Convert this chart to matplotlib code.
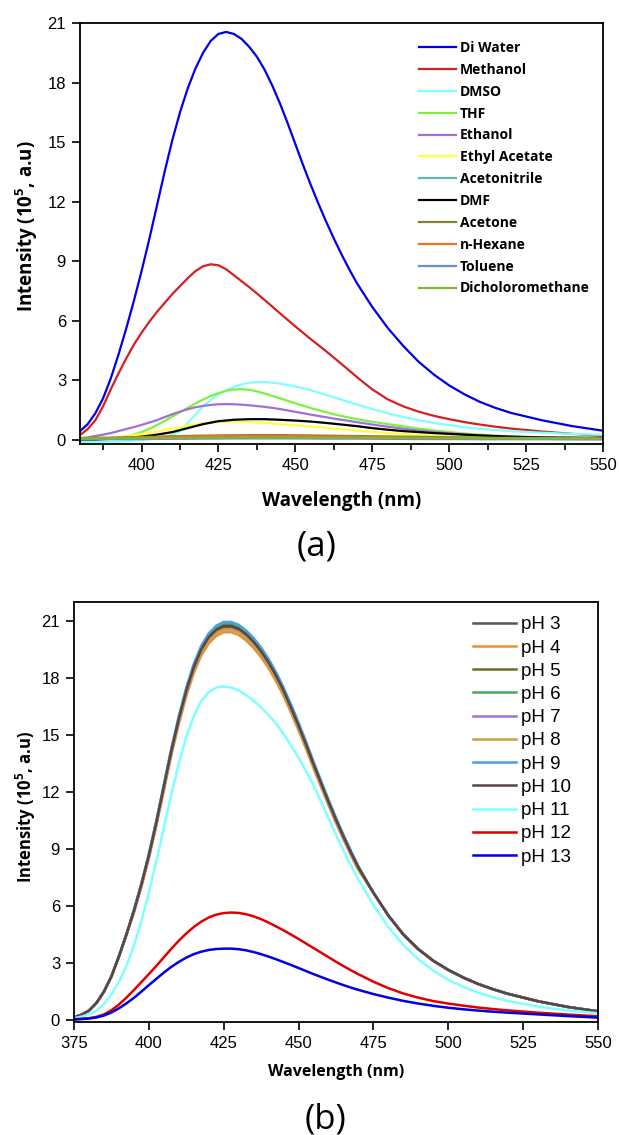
import matplotlib
matplotlib.use("Agg")
import matplotlib.pyplot as plt

plt.rcParams['font.family'] = ['Liberation Sans', 'DejaVu Sans']
plt.rcParams['mathtext.default'] = 'regular'

# ---- panel (a): solvents ----
wl_a = [380, 382.5, 385, 387.5, 390, 392.5, 395, 397.5, 400, 402.5, 405, 407.5, 410, 412.5, 415, 417.5,
        420, 422.5, 425, 427.5, 430, 432.5, 435, 437.5, 440, 442.5, 445, 447.5, 450, 452.5, 455, 457.5,
        460, 462.5, 465, 467.5, 470, 475, 480, 485, 490, 495, 500, 505, 510, 515, 520, 530, 540, 550]
wl_a5 = [380, 385, 390, 395, 400, 405, 410, 415, 420, 425, 430, 435, 440, 445, 450, 455, 460, 465,
         470, 475, 480, 485, 490, 495, 500, 505, 510, 515, 520, 525, 530, 535, 540, 545, 550]
wl_a10 = [380, 390, 400, 410, 420, 430, 440, 450, 460, 470, 480, 490, 500, 510, 520, 530, 540, 550]

di_water = [0.45, 0.8, 1.35, 2.1, 3.1, 4.3, 5.6, 7.0, 8.5, 10.1, 11.8, 13.5, 15.1, 16.5, 17.7, 18.7,
            19.5, 20.1, 20.45, 20.55, 20.45, 20.2, 19.8, 19.3, 18.65, 17.85, 16.95, 15.95, 14.9, 13.85, 12.85, 11.9,
            11.0, 10.15, 9.35, 8.6, 7.9, 6.7, 5.65, 4.75, 3.95, 3.3, 2.75, 2.3, 1.92, 1.62, 1.37, 1.0, 0.7, 0.47]
methanol = [0.25, 0.55, 1.0, 1.7, 2.55, 3.35, 4.1, 4.8, 5.4, 5.95, 6.45, 6.9, 7.35, 7.75, 8.15, 8.5,
            8.75, 8.85, 8.8, 8.6, 8.3, 8.0, 7.7, 7.38, 7.05, 6.72, 6.38, 6.05, 5.72, 5.4, 5.08, 4.78,
            4.47, 4.15, 3.83, 3.5, 3.17, 2.55, 2.05, 1.7, 1.43, 1.22, 1.05, 0.9, 0.78, 0.67, 0.58, 0.43, 0.31, 0.21]
dmso = [-0.1, -0.1, -0.1, -0.1, -0.09, -0.08, -0.06, -0.03, 0.0, 0.04, 0.09, 0.15, 0.25, 0.45, 0.85, 1.28,
        1.68, 2.02, 2.3, 2.52, 2.68, 2.8, 2.88, 2.92, 2.92, 2.89, 2.84, 2.77, 2.69, 2.6, 2.5, 2.39,
        2.27, 2.15, 2.03, 1.91, 1.79, 1.56, 1.35, 1.16, 1.0, 0.86, 0.75, 0.65, 0.57, 0.5, 0.45, 0.37, 0.31, 0.26]
thf = [0.0, 0.01, 0.03, 0.05, 0.08, 0.12, 0.18, 0.27, 0.4, 0.56, 0.75, 0.96, 1.18, 1.4, 1.62, 1.84,
       2.04, 2.22, 2.36, 2.47, 2.54, 2.56, 2.53, 2.45, 2.34, 2.22, 2.1, 1.97, 1.85, 1.73, 1.61, 1.5,
       1.4, 1.3, 1.21, 1.13, 1.05, 0.92, 0.8, 0.69, 0.58, 0.48, 0.4, 0.33, 0.27, 0.22, 0.18, 0.13, 0.1, 0.08]
ethanol = [0.08, 0.13, 0.2, 0.27, 0.35, 0.45, 0.55, 0.65, 0.76, 0.88, 1.0, 1.15, 1.3, 1.43, 1.55, 1.65,
           1.72, 1.77, 1.8, 1.81, 1.8, 1.78, 1.75, 1.71, 1.67, 1.62, 1.56, 1.49, 1.42, 1.35, 1.28, 1.21,
           1.15, 1.08, 1.02, 0.96, 0.9, 0.78, 0.67, 0.57, 0.48, 0.4, 0.34, 0.28, 0.23, 0.19, 0.16, 0.12, 0.1, 0.08]
ethyl_acetate = [0.02, 0.05, 0.1, 0.18, 0.3, 0.43, 0.57, 0.72, 0.85, 0.91, 0.92, 0.9, 0.86, 0.8, 0.74, 0.68, 0.61, 0.54,
                 0.47, 0.41, 0.35, 0.3, 0.26, 0.22, 0.19, 0.16, 0.13, 0.11, 0.09, 0.08, 0.07, 0.06, 0.05, 0.05, 0.05]
dmf = [0.02, 0.03, 0.06, 0.1, 0.17, 0.27, 0.4, 0.6, 0.8, 0.95, 1.02, 1.05, 1.05, 1.02, 0.98, 0.93, 0.86, 0.78,
       0.7, 0.6, 0.52, 0.45, 0.4, 0.35, 0.31, 0.27, 0.23, 0.2, 0.17, 0.15, 0.13, 0.12, 0.12, 0.11, 0.11]
acetonitrile = [0.05, 0.06, 0.07, 0.09, 0.11, 0.12, 0.13, 0.13, 0.12, 0.11, 0.1, 0.09, 0.08, 0.07, 0.07, 0.06, 0.06, 0.05]
acetone = [0.1, 0.12, 0.15, 0.19, 0.22, 0.24, 0.25, 0.24, 0.22, 0.2, 0.18, 0.16, 0.14, 0.12, 0.11, 0.1, 0.09, 0.09]
n_hexane = [0.08, 0.1, 0.13, 0.16, 0.19, 0.21, 0.21, 0.2, 0.18, 0.16, 0.14, 0.12, 0.11, 0.1, 0.09, 0.08, 0.08, 0.07]
toluene = [0.03, 0.04, 0.05, 0.06, 0.07, 0.08, 0.08, 0.08, 0.07, 0.07, 0.06, 0.05, 0.05, 0.04, 0.04, 0.04, 0.03, 0.03]
dcm = [0.07, 0.08, 0.09, 0.1, 0.11, 0.12, 0.12, 0.12, 0.11, 0.11, 0.1, 0.1, 0.09, 0.09, 0.08, 0.08, 0.08, 0.07]

solvents = ["Di Water", "Methanol", "DMSO", "THF", "Ethanol", "Ethyl Acetate", "Acetonitrile",
            "DMF", "Acetone", "n-Hexane", "Toluene", "Dicholoromethane"]
solvent_data = [(wl_a, di_water), (wl_a, methanol), (wl_a, dmso), (wl_a, thf), (wl_a, ethanol),
                (wl_a5, ethyl_acetate), (wl_a10, acetonitrile), (wl_a5, dmf), (wl_a10, acetone),
                (wl_a10, n_hexane), (wl_a10, toluene), (wl_a10, dcm)]
solvent_colors = ["#0000E6", "#D42020", "#80FFFF", "#80F040", "#A070D8", "#FFFF40", "#60B8B0",
                  "#000000", "#808030", "#F07020", "#6890C8", "#80B830"]

# ---- panel (b): pH ----
wl_b = [375, 377.5, 380, 382.5, 385, 387.5, 390, 392.5, 395, 397.5, 400, 402.5, 405, 407.5, 410, 412.5,
        415, 417.5, 420, 422.5, 425, 427.5, 430, 432.5, 435, 437.5, 440, 442.5, 445, 447.5, 450, 452.5,
        455, 457.5, 460, 462.5, 465, 467.5, 470, 475, 480, 485, 490, 495, 500, 505, 510, 515, 520, 530, 540, 550]
ph3 = [0.15, 0.28, 0.5, 0.9, 1.5, 2.3, 3.35, 4.5, 5.73, 7.11, 8.65, 10.37, 12.25, 14.13, 15.81, 17.29,
       18.53, 19.46, 20.11, 20.5, 20.7, 20.7, 20.55, 20.25, 19.86, 19.36, 18.77, 18.08, 17.29, 16.4, 15.46, 14.47,
       13.44, 12.45, 11.46, 10.52, 9.63, 8.79, 8.0, 6.7, 5.5, 4.5, 3.73, 3.12, 2.64, 2.24, 1.9, 1.62, 1.38, 0.99, 0.69, 0.46]
ph4 = [0.15, 0.28, 0.5, 0.9, 1.5, 2.3, 3.35, 4.5, 5.65, 7.01, 8.52, 10.23, 12.08, 13.93, 15.58, 17.05,
       18.26, 19.19, 19.82, 20.21, 20.41, 20.41, 20.26, 19.97, 19.58, 19.09, 18.51, 17.82, 17.05, 16.17, 15.24, 14.27,
       13.25, 12.27, 11.3, 10.37, 9.5, 8.67, 7.89, 6.7, 5.5, 4.5, 3.73, 3.12, 2.64, 2.24, 1.9, 1.62, 1.38, 0.99, 0.69, 0.46]
ph5 = [0.15, 0.28, 0.5, 0.9, 1.5, 2.3, 3.35, 4.5, 5.74, 7.12, 8.66, 10.38, 12.26, 14.14, 15.82, 17.3,
       18.54, 19.48, 20.12, 20.52, 20.72, 20.72, 20.57, 20.27, 19.88, 19.38, 18.79, 18.1, 17.3, 16.41, 15.47, 14.48,
       13.45, 12.46, 11.47, 10.53, 9.64, 8.8, 8.01, 6.7, 5.5, 4.5, 3.73, 3.12, 2.64, 2.24, 1.9, 1.62, 1.38, 0.99, 0.69, 0.46]
ph6 = [0.15, 0.28, 0.5, 0.9, 1.5, 2.3, 3.35, 4.5, 5.77, 7.16, 8.71, 10.45, 12.34, 14.23, 15.92, 17.41,
       18.66, 19.6, 20.25, 20.65, 20.85, 20.85, 20.7, 20.4, 20.0, 19.5, 18.91, 18.21, 17.41, 16.52, 15.57, 14.58,
       13.53, 12.54, 11.54, 10.6, 9.7, 8.86, 8.06, 6.7, 5.5, 4.5, 3.73, 3.12, 2.64, 2.24, 1.9, 1.62, 1.38, 0.99, 0.69, 0.46]
ph7 = [0.15, 0.28, 0.5, 0.9, 1.5, 2.3, 3.35, 4.5, 5.7, 7.07, 8.59, 10.31, 12.18, 14.04, 15.71, 17.19,
       18.41, 19.35, 19.98, 20.38, 20.57, 20.57, 20.43, 20.13, 19.74, 19.25, 18.66, 17.97, 17.19, 16.3, 15.37, 14.39,
       13.36, 12.37, 11.39, 10.46, 9.57, 8.74, 7.95, 6.7, 5.5, 4.5, 3.73, 3.12, 2.64, 2.24, 1.9, 1.62, 1.38, 0.99, 0.69, 0.46]
ph8 = [0.15, 0.28, 0.5, 0.9, 1.5, 2.3, 3.35, 4.5, 5.69, 7.06, 8.58, 10.3, 12.17, 14.03, 15.7, 17.18,
       18.4, 19.33, 19.96, 20.36, 20.55, 20.55, 20.41, 20.11, 19.72, 19.23, 18.64, 17.95, 17.17, 16.28, 15.35, 14.37,
       13.35, 12.36, 11.38, 10.45, 9.56, 8.73, 7.94, 6.7, 5.5, 4.5, 3.73, 3.12, 2.64, 2.24, 1.9, 1.62, 1.38, 0.99, 0.69, 0.46]
ph9 = [0.15, 0.28, 0.5, 0.9, 1.5, 2.3, 3.35, 4.5, 5.8, 7.2, 8.75, 10.5, 12.4, 14.3, 16.0, 17.5,
       18.75, 19.7, 20.35, 20.75, 20.95, 20.95, 20.8, 20.5, 20.1, 19.6, 19.0, 18.3, 17.5, 16.6, 15.65, 14.65,
       13.6, 12.6, 11.6, 10.65, 9.75, 8.9, 8.1, 6.7, 5.5, 4.5, 3.73, 3.12, 2.64, 2.24, 1.9, 1.62, 1.38, 0.99, 0.69, 0.46]
ph10 = [0.15, 0.28, 0.5, 0.9, 1.5, 2.3, 3.35, 4.5, 5.74, 7.13, 8.66, 10.4, 12.28, 14.16, 15.84, 17.33,
        18.56, 19.5, 20.15, 20.54, 20.74, 20.74, 20.59, 20.3, 19.9, 19.4, 18.81, 18.12, 17.33, 16.43, 15.49, 14.5,
        13.46, 12.47, 11.48, 10.54, 9.65, 8.81, 8.02, 6.7, 5.5, 4.5, 3.73, 3.12, 2.64, 2.24, 1.9, 1.62, 1.38, 0.99, 0.69, 0.46]
ph11 = [0.1, 0.18, 0.3, 0.5, 0.85, 1.35, 2.0, 2.85, 3.9, 5.2, 6.7, 8.35, 10.1, 11.85, 13.5, 14.9,
        16.0, 16.8, 17.25, 17.5, 17.55, 17.5, 17.35, 17.1, 16.8, 16.45, 16.05, 15.6, 15.05, 14.45, 13.8, 13.1,
        12.35, 11.5, 10.62, 9.75, 8.92, 8.13, 7.4, 6.05, 4.9, 3.95, 3.2, 2.6, 2.12, 1.75, 1.45, 1.2, 1.0, 0.71, 0.5, 0.36]
ph12 = [0.05, 0.07, 0.1, 0.17, 0.3, 0.52, 0.82, 1.18, 1.58, 2.0, 2.42, 2.85, 3.3, 3.75, 4.18, 4.56,
        4.9, 5.18, 5.4, 5.55, 5.63, 5.66, 5.64, 5.57, 5.46, 5.31, 5.13, 4.93, 4.72, 4.5, 4.27, 4.03,
        3.79, 3.55, 3.31, 3.07, 2.84, 2.62, 2.41, 2.02, 1.68, 1.4, 1.18, 1.0, 0.87, 0.76, 0.66, 0.58, 0.51, 0.39, 0.29, 0.2]
ph13 = [0.03, 0.05, 0.08, 0.14, 0.24, 0.4, 0.62, 0.88, 1.17, 1.5, 1.84, 2.17, 2.5, 2.8, 3.06, 3.29,
        3.47, 3.6, 3.69, 3.74, 3.76, 3.76, 3.73, 3.67, 3.58, 3.47, 3.34, 3.2, 3.05, 2.9, 2.74, 2.58,
        2.42, 2.27, 2.12, 1.98, 1.84, 1.71, 1.59, 1.37, 1.18, 1.01, 0.87, 0.75, 0.65, 0.57, 0.5, 0.44, 0.39, 0.3, 0.21, 0.13]

ph_labels = ["pH 3", "pH 4", "pH 5", "pH 6", "pH 7", "pH 8", "pH 9", "pH 10", "pH 11", "pH 12", "pH 13"]
ph_data = [ph3, ph4, ph5, ph6, ph7, ph8, ph9, ph10, ph11, ph12, ph13]
ph_colors = ["#555555", "#E8903A", "#6E6E20", "#4CA860", "#A070E0", "#C8A040", "#4A9FE0",
             "#5A4444", "#80FFFF", "#E00000", "#0000E0"]

label_font = dict(family=["Open Sans", "DejaVu Sans"], fontweight="bold")

fig = plt.figure(figsize=(6.19, 11.35), dpi=100)
ax1 = fig.add_axes([80 / 619, 1 - 444 / 1135, 523 / 619, 421 / 1135])
ax2 = fig.add_axes([74 / 619, 1 - 1022 / 1135, 524 / 619, 420 / 1135])

for name, (x, y), c in zip(solvents, solvent_data, solvent_colors):
    ax1.plot(x, y, color=c, linewidth=1.6, label=name)

ax1.set_xlim(380, 550)
ax1.set_ylim(-0.2, 21)
ax1.set_xticks([400, 425, 450, 475, 500, 525, 550])
ax1.set_xticks([387.5, 412.5, 437.5, 462.5, 487.5, 512.5, 537.5], minor=True)
ax1.set_yticks([0, 3, 6, 9, 12, 15, 18, 21])
ax1.tick_params(axis="both", which="major", direction="out", length=6, width=1.2, labelsize=12, pad=4)
ax1.tick_params(axis="x", which="minor", direction="out", length=4, width=1.2)
for s in ax1.spines.values():
    s.set_linewidth(1.3)
ax1.set_xlabel("Wavelength (nm)", fontsize=13.5, **label_font)
ax1.set_ylabel("Intensity (10$^5$, a.u)", fontsize=13.5, **label_font)
ax1.xaxis.set_label_coords(0.5, -0.135)
ax1.xaxis.label.set_verticalalignment("center")
ax1.yaxis.set_label_coords(-0.102, 0.518)
ax1.yaxis.label.set_verticalalignment("center")
ax1.legend(loc="upper left", bbox_to_anchor=(0.648, 0.957), frameon=False, borderpad=0,
           borderaxespad=0, handlelength=2.65, handletextpad=0.3, labelspacing=0.565,
           prop=dict(family=["Open Sans", "DejaVu Sans"], weight="bold", size=10))

for name, y, c in zip(ph_labels, ph_data, ph_colors):
    ax2.plot(wl_b, y, color=c, linewidth=1.8, label=name)

ax2.set_xlim(375, 550)
ax2.set_ylim(-0.1, 22)
ax2.set_xticks([375, 400, 425, 450, 475, 500, 525, 550])
ax2.set_yticks([0, 3, 6, 9, 12, 15, 18, 21])
ax2.tick_params(axis="both", which="major", direction="out", length=6, width=1.2, labelsize=12, pad=4)
for s in ax2.spines.values():
    s.set_linewidth(1.3)
ax2.set_xlabel("Wavelength (nm)", fontsize=11.5, **label_font)
ax2.set_ylabel("Intensity (10$^5$, a.u)", fontsize=12, **label_font)
ax2.xaxis.set_label_coords(0.5, -0.119)
ax2.xaxis.label.set_verticalalignment("center")
ax2.yaxis.set_label_coords(-0.092, 0.512)
ax2.yaxis.label.set_verticalalignment("center")
ax2.legend(loc="upper left", bbox_to_anchor=(0.761, 0.966), frameon=False, borderpad=0,
           borderaxespad=0, handlelength=2.3, handletextpad=0.28, labelspacing=0.325,
           prop=dict(size=13.5))

fig.text(317 / 619, 1 - 546 / 1135, "(a)", fontsize=25, family=["Open Sans", "DejaVu Sans"],
         ha="center", va="center")
fig.text(325 / 619, 1 - 1120 / 1135, "(b)", fontsize=25, family=["Open Sans", "DejaVu Sans"],
         ha="center", va="center")

fig.savefig("out.png", dpi=100)
